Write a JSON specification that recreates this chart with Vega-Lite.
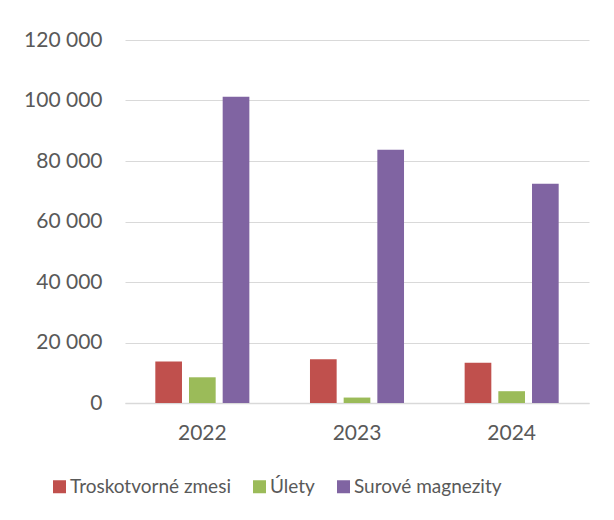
{
  "$schema": "https://vega.github.io/schema/vega-lite/v6.json",
  "width": 464,
  "height": 363,
  "autosize": {"type": "none"},
  "padding": {"left": 125, "top": 40, "right": 25, "bottom": 117},
  "background": "white",
  "data": {
    "values": [
      {"rok": "2022", "kategoria": "Troskotvorné zmesi", "hodnota": 13700},
      {"rok": "2022", "kategoria": "Úlety", "hodnota": 8500},
      {"rok": "2022", "kategoria": "Surové magnezity", "hodnota": 101200},
      {"rok": "2023", "kategoria": "Troskotvorné zmesi", "hodnota": 14500},
      {"rok": "2023", "kategoria": "Úlety", "hodnota": 1800},
      {"rok": "2023", "kategoria": "Surové magnezity", "hodnota": 83700},
      {"rok": "2024", "kategoria": "Troskotvorné zmesi", "hodnota": 13300},
      {"rok": "2024", "kategoria": "Úlety", "hodnota": 3900},
      {"rok": "2024", "kategoria": "Surové magnezity", "hodnota": 72500}
    ]
  },
  "mark": {"type": "bar"},
  "encoding": {
    "x": {
      "field": "rok",
      "type": "nominal",
      "scale": {"paddingInner": 0.392, "paddingOuter": 0.196},
      "axis": {
        "title": null,
        "labelAngle": 0,
        "ticks": false,
        "domain": true,
        "domainColor": "#D9D9D9",
        "domainWidth": 1.5,
        "labelPadding": 19,
        "labelFontSize": 21,
        "labelFont": "Lato",
        "labelColor": "#595959"
      }
    },
    "xOffset": {
      "field": "kategoria",
      "type": "nominal",
      "sort": ["Troskotvorné zmesi", "Úlety", "Surové magnezity"],
      "scale": {"paddingInner": 0.208, "paddingOuter": 0}
    },
    "y": {
      "field": "hodnota",
      "type": "quantitative",
      "scale": {"domain": [0, 120000]},
      "axis": {
        "title": null,
        "values": [0, 20000, 40000, 60000, 80000, 100000, 120000],
        "labelExpr": "replace(format(datum.value, ','), ',', ' ')",
        "ticks": false,
        "domain": false,
        "grid": true,
        "gridColor": "#D9D9D9",
        "gridWidth": 1.2,
        "labelPadding": 23,
        "labelFontSize": 21,
        "labelFont": "Lato",
        "labelColor": "#595959"
      }
    },
    "color": {
      "field": "kategoria",
      "type": "nominal",
      "sort": ["Troskotvorné zmesi", "Úlety", "Surové magnezity"],
      "scale": {
        "domain": ["Troskotvorné zmesi", "Úlety", "Surové magnezity"],
        "range": ["#C0504D", "#9BBB59", "#8064A2"]
      },
      "legend": {
        "title": null,
        "orient": "none",
        "direction": "horizontal",
        "legendX": -75,
        "legendY": 437,
        "symbolType": "square",
        "symbolSize": 169,
        "symbolStrokeWidth": 0,
        "labelFontSize": 19,
        "labelFont": "Lato",
        "labelColor": "#595959",
        "labelLimit": 0,
        "labelOffset": 1,
        "columnPadding": 19
      }
    }
  },
  "config": {
    "view": {"stroke": null}
  }
}
